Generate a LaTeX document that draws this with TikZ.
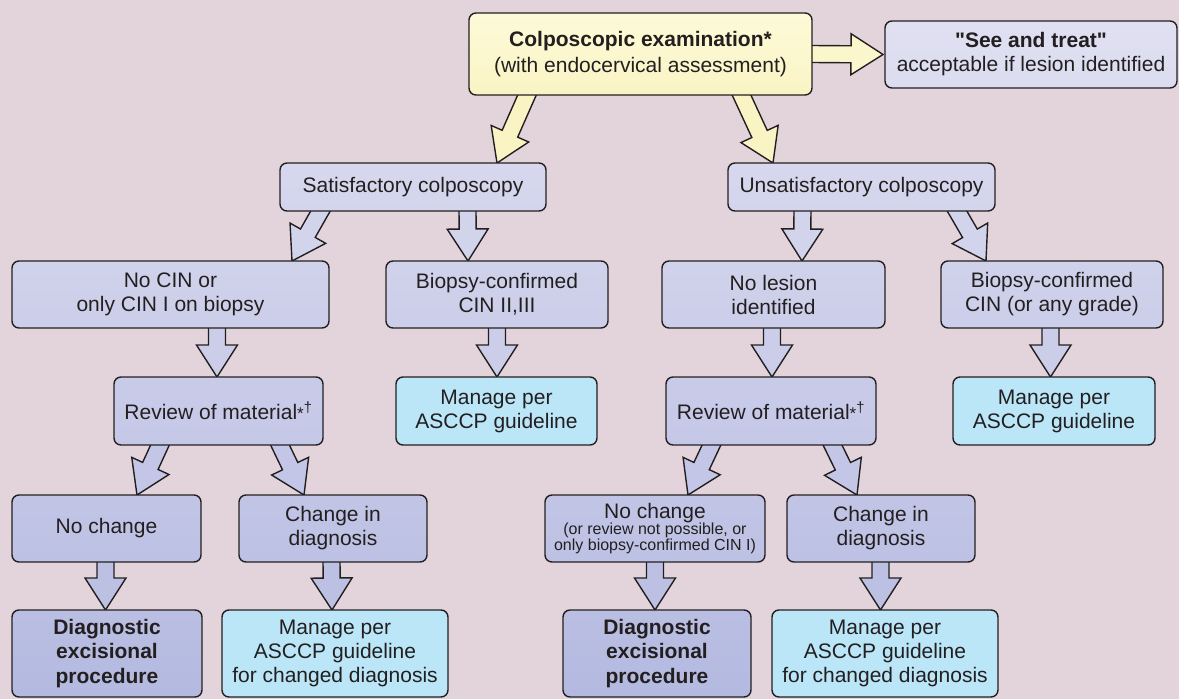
\documentclass[tikz,border=0pt]{standalone}
\usepackage{fontspec}
\setmainfont{Liberation Sans}[Ligatures=TeXOff]
\usetikzlibrary{calc}

\definecolor{bg}{RGB}{227,212,220}
\definecolor{ink}{RGB}{35,31,32}
\definecolor{lavA}{RGB}{225,225,242}
\definecolor{lavB}{RGB}{180,185,224}
\definecolor{cyanbox}{RGB}{186,230,248}
\definecolor{yelA}{RGB}{253,250,216}
\definecolor{yelB}{RGB}{250,244,196}

\pgfdeclarelayer{backdrop}
\pgfdeclarelayer{arrows}
\pgfsetlayers{backdrop,arrows,main}

\tikzset{
  box/.style={draw=ink, line width=1.4pt, rounded corners=7pt, inner sep=0pt,
    outer sep=0pt, align=center, text=ink, font=\fontsize{21}{24}\selectfont},
  lav/.style 2 args={box, top color=lavB!#1!lavA, bottom color=lavB!#2!lavA},
  cyanfill/.style={box, fill=cyanbox},
  yelfill/.style={box, top color=yelA, bottom color=yelB},
  blockline/.style={draw=ink, line width=1.4pt, line join=miter},
}

% block arrow: #1 fill colour, #2 point on the source border, #3 tip
\newcommand\blockarrow[3]{%
  \coordinate (ba-s) at #2;
  \coordinate (ba-t) at #3;
  \coordinate (ba-b) at ($(ba-s)!-8pt!(ba-t)$);
  \coordinate (ba-h) at ($(ba-t)!32pt!(ba-s)$);
  \filldraw[blockline, fill=#1]
    ($(ba-b)!8.5pt!90:(ba-t)$) -- ($(ba-h)!8.5pt!90:(ba-t)$) --
    ($(ba-h)!20.5pt!90:(ba-t)$) -- (ba-t) --
    ($(ba-h)!20.5pt!-90:(ba-t)$) -- ($(ba-h)!8.5pt!-90:(ba-t)$) --
    ($(ba-b)!8.5pt!-90:(ba-t)$);
}

\begin{document}
\begin{tikzpicture}[x=1pt, y=-1pt]
\begin{pgfonlayer}{backdrop}
  \fill[bg] (0,0) rectangle (1179,699);
\end{pgfonlayer}
\useasboundingbox (0,0) rectangle (1179,699);

% top level
\node[yelfill, minimum width=343pt, minimum height=82pt] (top) at (640.5,54)
  {\textbf{Colposcopic examination*}\\[2pt](with endocervical assessment)};
\node[lav={2}{12}, minimum width=292pt, minimum height=67pt] (see) at (1031,54.5)
  {\textbf{"See and treat"}\\acceptable if lesion identified};

% second level
\node[lav={23}{30}, minimum width=266pt, minimum height=48pt] (sat) at (413,187)
  {Satisfactory colposcopy};
\node[lav={23}{30}, minimum width=267pt, minimum height=48pt] (unsat) at (861.5,187)
  {Unsatisfactory colposcopy};

% third level
\node[lav={37}{47}, minimum width=317pt, minimum height=67pt] (nocin) at (170.5,294.5)
  {No CIN or\\only CIN I on biopsy};
\node[lav={37}{47}, minimum width=222pt, minimum height=67pt] (bio23) at (497,294.5)
  {Biopsy-confirmed\\CIN II,III};
\node[lav={37}{47}, minimum width=223pt, minimum height=67pt] (nolesion) at (773.5,294.5)
  {No lesion\\identified};
\node[lav={37}{47}, minimum width=222pt, minimum height=67pt] (bioany) at (1052,294.5)
  {Biopsy-confirmed\\CIN (or any grade)};

% fourth level
\node[lav={54}{64}, minimum width=209pt, minimum height=68pt] (rev1) at (218.5,411)
  {Review of material{\fontsize{17}{20}\selectfont *}\textsuperscript{†}};
\node[cyanfill, minimum width=201pt, minimum height=68pt] (man1) at (496.5,411)
  {Manage per\\ASCCP guideline};
\node[lav={54}{64}, minimum width=210pt, minimum height=68pt] (rev2) at (771,411)
  {Review of material{\fontsize{17}{20}\selectfont *}\textsuperscript{†}};
\node[cyanfill, minimum width=202pt, minimum height=68pt] (man2) at (1054,411)
  {Manage per\\ASCCP guideline};

% fifth level
\node[lav={71}{80}, minimum width=189pt, minimum height=67pt] (noch1) at (106.5,528.5)
  {No change};
\node[lav={71}{80}, minimum width=188pt, minimum height=67pt] (ch1) at (333,528.5)
  {Change in\\diagnosis};
\node[lav={71}{80}, minimum width=220pt, minimum height=67pt,
      font=\fontsize{16}{16}\selectfont] (noch2) at (655,528.5)
  {{\fontsize{21}{24}\selectfont No change}\\(or review not possible, or\\only biopsy-confirmed CIN I)};
\node[lav={71}{80}, minimum width=188pt, minimum height=67pt] (ch2) at (881,528.5)
  {Change in\\diagnosis};

% bottom level
\node[lav={87}{100}, minimum width=190pt, minimum height=87pt,
      font=\fontsize{21}{24.5}\selectfont\bfseries] (diag1) at (107,653.5)
  {Diagnostic\\excisional\\procedure};
\node[cyanfill, minimum width=226pt, minimum height=87pt] (manch1) at (335,653.5)
  {Manage per\\ASCCP guideline\\for changed diagnosis};
\node[lav={87}{100}, minimum width=188pt, minimum height=87pt,
      font=\fontsize{21}{24.5}\selectfont\bfseries] (diag2) at (657,653.5)
  {Diagnostic\\excisional\\procedure};
\node[cyanfill, minimum width=226pt, minimum height=87pt] (manch2) at (885,653.5)
  {Manage per\\ASCCP guideline\\for changed diagnosis};

% connectors
\begin{pgfonlayer}{arrows}
  \blockarrow{yelB!60!yelA}{(top.east)}{([xshift=-2pt]see.west)}
  \blockarrow{yelB}{([xshift=-113.5pt]top.south)}{([xshift=84pt]sat.north)}
  \blockarrow{yelB}{([xshift=101pt]top.south)}{([xshift=-88.5pt]unsat.north)}

  \blockarrow{lavB!33!lavA}{([xshift=-92.5pt]sat.south)}{([xshift=121.5pt]nocin.north)}
  \blockarrow{lavB!33!lavA}{([xshift=54.5pt]sat.south)}{([xshift=-29pt]bio23.north)}
  \blockarrow{lavB!33!lavA}{([xshift=-59pt]unsat.south)}{([xshift=28.5pt]nolesion.north)}
  \blockarrow{lavB!33!lavA}{([xshift=95.5pt]unsat.south)}{([xshift=-66pt]bioany.north)}

  \blockarrow{lavB!50!lavA}{([xshift=46.5pt]nocin.south)}{([xshift=-1.5pt]rev1.north)}
  \blockarrow{lavB!50!lavA}{(bio23.south)}{([xshift=0.5pt]man1.north)}
  \blockarrow{lavB!50!lavA}{([xshift=-1.5pt]nolesion.south)}{([xshift=1pt]rev2.north)}
  \blockarrow{lavB!50!lavA}{([xshift=-1.5pt]bioany.south)}{([xshift=-3.5pt]man2.north)}

  \blockarrow{lavB!67!lavA}{([xshift=-58.5pt]rev1.south)}{([xshift=30.5pt]noch1.north)}
  \blockarrow{lavB!67!lavA}{([xshift=61.5pt]rev1.south)}{([xshift=-29pt]ch1.north)}
  \blockarrow{lavB!67!lavA}{([xshift=-59.5pt]rev2.south)}{([xshift=33pt]noch2.north)}
  \blockarrow{lavB!67!lavA}{([xshift=61.5pt]rev2.south)}{([xshift=-24pt]ch2.north)}

  \blockarrow{lavB!83!lavA}{([xshift=-1pt]noch1.south)}{([xshift=-1.5pt]diag1.north)}
  \blockarrow{lavB!83!lavA}{([xshift=-1.5pt]ch1.south)}{([xshift=-3pt]manch1.north)}
  \blockarrow{lavB!83!lavA}{(noch2.south)}{([xshift=-2pt]diag2.north)}
  \blockarrow{lavB!83!lavA}{([xshift=-0.5pt]ch2.south)}{([xshift=-4.5pt]manch2.north)}
\end{pgfonlayer}
\end{tikzpicture}
\end{document}
